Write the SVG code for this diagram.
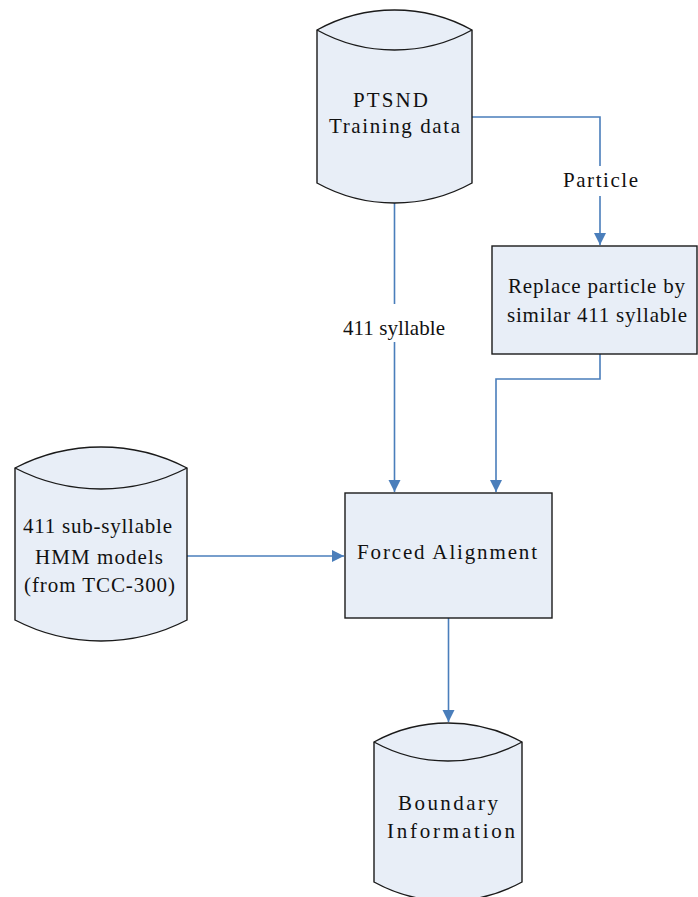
<svg xmlns="http://www.w3.org/2000/svg" width="698" height="897" viewBox="0 0 698 897">
  <style>
    .shape { fill: #e8eef7; stroke: #1a1a1a; stroke-width: 1.4; }
    .cap { fill: none; stroke: #1a1a1a; stroke-width: 1.4; }
    .label { font-family: "Liberation Serif", "Times New Roman", serif; font-size: 21px; fill: #111; text-anchor: middle; }
    .edge { fill: none; stroke: #4a7ebb; stroke-width: 1.6; }
    .gap { fill: #ffffff; }
  </style>
  <defs>
    <marker id="arrow" markerUnits="userSpaceOnUse" markerWidth="14" markerHeight="14" viewBox="0 0 14 14" refX="13" refY="7" orient="auto">
      <path d="M1,1 L13,7 L1,13 Z" fill="#4a7ebb"/>
    </marker>
  </defs>
  <rect width="698" height="897" fill="#ffffff"/>

  <!-- connectors -->
  <g id="connectors">
    <path class="edge" d="M472,117 H600 V245" marker-end="url(#arrow)"/>
    <path class="edge" d="M394.5,203 V492" marker-end="url(#arrow)"/>
    <path class="edge" d="M600,354 V379 H496 V492" marker-end="url(#arrow)"/>
    <path class="edge" d="M187,556 H344" marker-end="url(#arrow)"/>
    <path class="edge" d="M448.5,618 V722" marker-end="url(#arrow)"/>
    <rect class="gap" x="560" y="166" width="82" height="30"/>
    <text class="label" x="600.5" y="187" textLength="75" lengthAdjust="spacing">Particle</text>
    <rect class="gap" x="340" y="304" width="108" height="38"/>
    <text class="label" x="394" y="335" textLength="102" lengthAdjust="spacing">411 syllable</text>
  </g>

  <!-- PTSND training data store -->
  <g id="ptsnd">
    <path class="shape" d="M317,30 V183 A160,160 0 0 0 472,183 V30 A160,160 0 0 0 317,30 Z"/>
    <path class="cap" d="M317,30 A160,160 0 0 0 472,30"/>
    <text class="label" x="390.5" y="107" textLength="75" lengthAdjust="spacing">PTSND</text>
    <text class="label" x="394.5" y="133" textLength="131" lengthAdjust="spacing">Training data</text>
  </g>

  <!-- particle replacement step -->
  <g id="replace">
    <rect class="shape" x="492" y="246" width="205" height="108"/>
    <text class="label" x="596.5" y="293" textLength="177" lengthAdjust="spacing">Replace particle by</text>
    <text class="label" x="597" y="322" textLength="180" lengthAdjust="spacing">similar 411 syllable</text>
  </g>

  <!-- HMM model store -->
  <g id="hmm">
    <path class="shape" d="M15,468 V620 A186.6,186.6 0 0 0 187,620 V468 A186.6,186.6 0 0 0 15,468 Z"/>
    <path class="cap" d="M15,468 A186.6,186.6 0 0 0 187,468"/>
    <text class="label" x="97.5" y="533" textLength="149" lengthAdjust="spacing">411 sub-syllable</text>
    <text class="label" x="99" y="564" textLength="128" lengthAdjust="spacing">HMM models</text>
    <text class="label" x="99.5" y="592" textLength="151" lengthAdjust="spacing">(from TCC-300)</text>
  </g>

  <!-- alignment step -->
  <g id="forced">
    <rect class="shape" x="345" y="493" width="207" height="125"/>
    <text class="label" x="447" y="559" textLength="180" lengthAdjust="spacing">Forced Alignment</text>
  </g>

  <!-- boundary output store -->
  <g id="boundary">
    <path class="shape" d="M374,742 V882 A153.6,153.6 0 0 0 522,882 V742 A153.6,153.6 0 0 0 374,742 Z"/>
    <path class="cap" d="M374,742 A153.6,153.6 0 0 0 522,742"/>
    <text class="label" x="448" y="810" textLength="100" lengthAdjust="spacing">Boundary</text>
    <text class="label" x="451" y="838" textLength="128" lengthAdjust="spacing">Information</text>
  </g>
</svg>
